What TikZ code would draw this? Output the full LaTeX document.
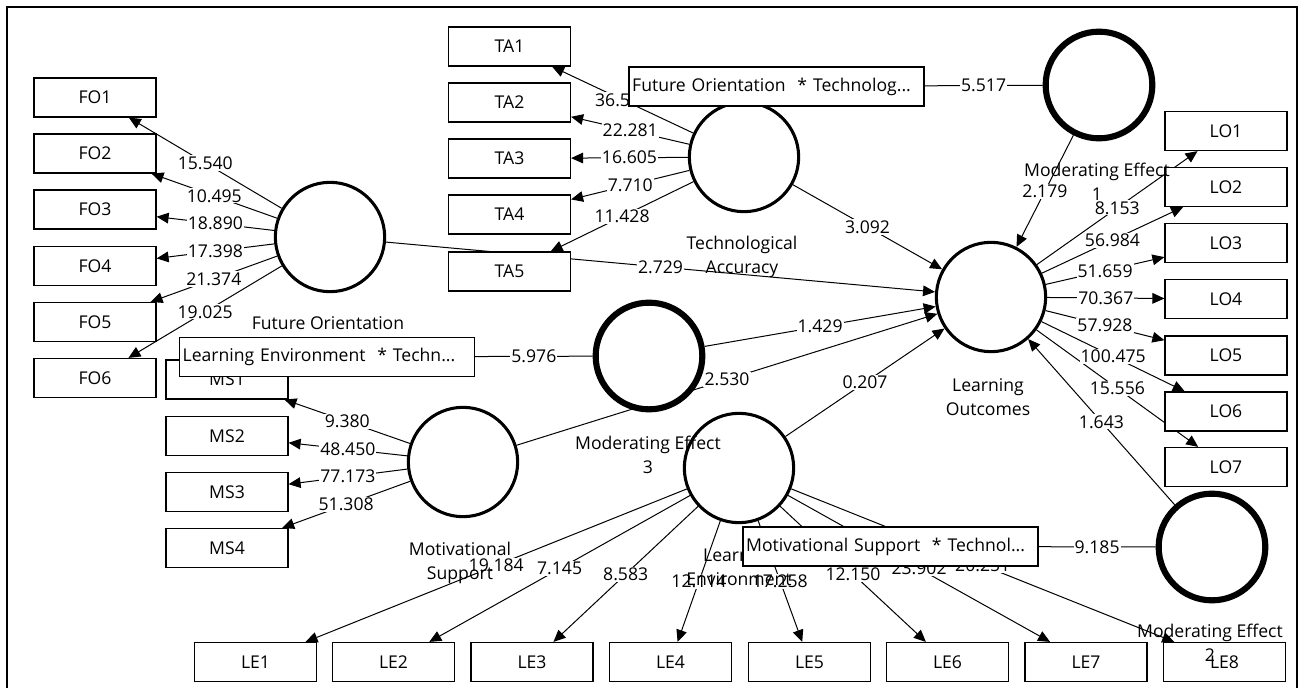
\documentclass[tikz,border=0pt]{standalone}
\usepackage{fontspec}
\setmainfont{Open Sans}
\usetikzlibrary{arrows.meta}
\pgfdeclarelayer{background}
\pgfdeclarelayer{labels}
\pgfdeclarelayer{foreground}
\pgfsetlayers{background,labels,main,foreground}
\newcommand\fs{\fontsize{13.2pt}{18.2pt}\selectfont}
\tikzset{
  lv/.style={circle, draw, line width=2.3pt, fill=white, minimum size=82pt, inner sep=0pt},
  mod/.style={lv, line width=4.6pt, minimum size=80pt},
  ind/.style={rectangle, draw, line width=0.9pt, fill=white, minimum width=91.5pt, minimum height=29.25pt, inner sep=0pt, font=\fs},
  inter/.style={ind, minimum width=221.25pt, inner xsep=2.2pt, text width=216.5pt, align=left},
  valbox/.style={fill=white, inner sep=0.8pt, font=\fs},
  cname/.style={align=center, font=\fs},
  conn/.style={line width=0.75pt, -{Triangle[length=9pt,width=8pt]}},
  plainline/.style={line width=0.75pt},
}
\newcommand\pathlink[4][conn]{%
  \begin{pgfonlayer}{background}\draw[#1] (#2) -- (#3);\end{pgfonlayer}%
  \begin{pgfonlayer}{labels}\path (#2) -- (#3) node[valbox,midway]{#4};\end{pgfonlayer}}
\begin{document}
\begin{tikzpicture}[x=0.75pt,y=-0.75pt]
\useasboundingbox (0,0) rectangle (1304,688);
\draw[line width=1.8pt] (7,690) -- (7,7) -- (1297,7) -- (1297,690);

% latent variables
\node[lv] (FO) at (330,237) {};
\node[lv] (TA) at (744,157) {};
\node[lv] (LO) at (991,297) {};
\node[lv] (MS) at (463,462) {};
\node[lv] (LE) at (739,468) {};
\node[mod] (ME1) at (1099,85) {};
\node[mod] (ME3) at (649,356) {};
\node[mod] (ME2) at (1212,547) {};

% indicators
\foreach \i/\y in {1/97.5,2/153.5,3/209.5,4/266,5/322,6/378}
  \node[ind] (FO\i) at (95,\y) {FO\i};
\foreach \i/\y in {1/46.5,2/102.5,3/158.5,4/214.5,5/271.5}
  \node[ind] (TA\i) at (509.5,\y) {TA\i};
\foreach \i/\y in {1/131,2/187,3/243,4/299,5/355.5,6/411.5,7/467}
  \node[ind] (LO\i) at (1226,\y) {LO\i};
\foreach \i/\y in {1/379.5,2/436,3/492,4/548}
  \node[ind] (MS\i) at (227,\y) {MS\i};
\foreach \i/\x in {1/255.5,2/393.5,3/532,4/670.5,5/809.5,6/947.5,7/1086,8/1224.5}
  \node[ind] (LE\i) at (\x,662) {LE\i};

% interaction terms
\node[inter] (B1) at (776.5,86.5) {Future Orientation\ \ * Technolog...};
\node[inter] (B2) at (327,357) {Learning Environment\ \ * Techn...};
\node[inter] (B3) at (890.5,546.5) {Motivational Support\ \ * Technol...};

% outer loadings
\pathlink{FO}{FO1}{15.540}
\pathlink{FO}{FO2}{10.495}
\pathlink{FO}{FO3}{18.890}
\pathlink{FO}{FO4}{17.398}
\pathlink{FO}{FO5}{21.374}
\pathlink{FO}{FO6}{19.025}
\pathlink{TA}{TA1}{36.500}
\pathlink{TA}{TA2}{22.281}
\pathlink{TA}{TA3}{16.605}
\pathlink{TA}{TA4}{7.710}
\pathlink{TA}{TA5}{11.428}
\pathlink{LO}{LO1}{8.153}
\pathlink{LO}{LO2}{56.984}
\pathlink{LO}{LO3}{51.659}
\pathlink{LO}{LO4}{70.367}
\pathlink{LO}{LO5}{57.928}
\pathlink{LO}{LO6}{100.475}
\pathlink{LO}{LO7}{15.556}
\pathlink{MS}{MS1}{9.380}
\pathlink{MS}{MS2}{48.450}
\pathlink{MS}{MS3}{77.173}
\pathlink{MS}{MS4}{51.308}
\pathlink{LE}{LE1}{19.184}
\pathlink{LE}{LE2}{7.145}
\pathlink{LE}{LE3}{8.583}
\pathlink{LE}{LE4}{12.114}
\pathlink{LE}{LE5}{17.258}
\pathlink{LE}{LE6}{12.150}
\pathlink{LE}{LE7}{23.902}
\pathlink{LE}{LE8}{20.251}
\pathlink[plainline]{B1}{ME1}{5.517}
\pathlink[plainline]{B2}{ME3}{5.976}
\pathlink[plainline]{B3}{ME2}{9.185}

% structural paths
\pathlink{FO}{LO}{2.729}
\pathlink{TA}{LO}{3.092}
\pathlink{ME1}{LO}{2.179}
\pathlink{ME3}{LO}{1.429}
\pathlink{MS}{LO}{2.530}
\pathlink{LE}{LO}{0.207}
\pathlink{ME2}{LO}{1.643}

% construct names
\begin{pgfonlayer}{labels}
\node[cname] (nLE) at (739,567) {Learning\\Environment};
\end{pgfonlayer}
\begin{pgfonlayer}{foreground}
\node[cname] (nFO) at (328,323) {Future Orientation};
\node[cname] (nTA) at (742,257) {Technological\\Accuracy};
\node[cname] (nLO) at (988,397) {Learning\\Outcomes};
\node[cname] (nME1) at (1097,182) {Moderating Effect\\1};
\node[cname] (nME3) at (648,455) {Moderating Effect\\3};
\node[cname] (nMS) at (460,563) {Motivational\\Support};
\node[cname] (nME2) at (1210,643) {Moderating Effect\\2};
\end{pgfonlayer}
\end{tikzpicture}
\end{document}
